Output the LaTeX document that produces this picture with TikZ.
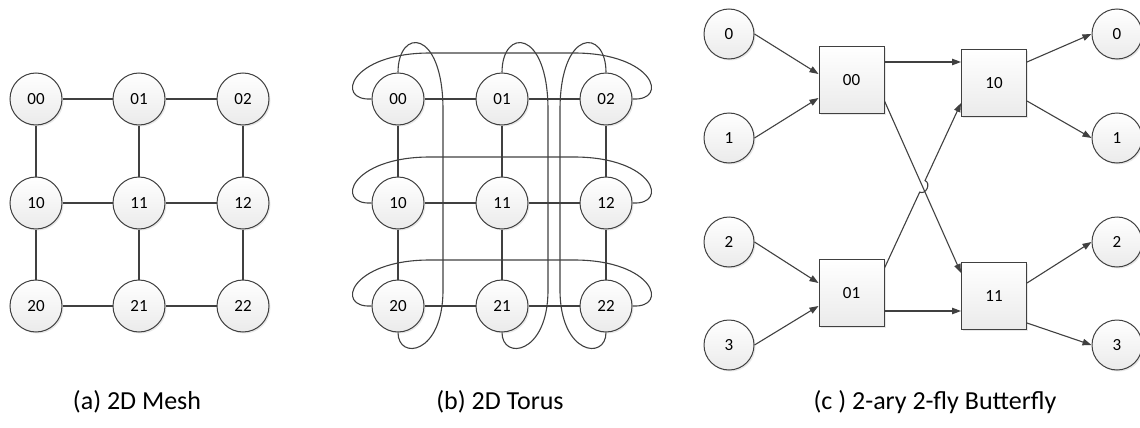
\documentclass[tikz,border=0pt]{standalone}
\usepackage{fontspec}
\setmainfont{Carlito}
\usetikzlibrary{arrows.meta,calc,shadows}
\definecolor{ln}{HTML}{404040}
\tikzset{
  x=1pt,y=-1pt,
  edge/.style={draw=ln, line width=1.1pt},
  arr/.style={edge, -{Triangle[length=9pt,width=6.5pt]}},
  nd/.style={circle, draw=ln, line width=1pt, minimum size=52pt, inner sep=0pt,
    top color=white, bottom color=gray!16, font=\fontsize{17}{20}\selectfont,
    drop shadow={shadow xshift=1.5pt, shadow yshift=-1.5pt, opacity=0.18}},
  io/.style={nd, minimum size=50pt},
  sw/.style={rectangle, draw=ln, line width=1pt, minimum width=65pt, minimum height=67pt, inner sep=0pt,
    top color=white, bottom color=gray!16, font=\fontsize{17}{20}\selectfont,
    drop shadow={shadow xshift=1.5pt, shadow yshift=-1.5pt, opacity=0.18}},
  captxt/.style={font=\fontsize{26}{30}\selectfont}
}
\begin{document}
\begin{tikzpicture}
\useasboundingbox (0,0) rectangle (1140,428);
\clip (0,0) rectangle (1140,428);
% ---------- (a) mesh
\foreach \r/\y in {0/99,1/203,2/306}{
  \foreach \c/\x in {0/36,1/139,2/243}{
    \node[nd] (m\r\c) at (\x,\y) {\r\c};
  }}
\foreach \r in {0,1,2}{
  \draw[edge] (m\r0) -- (m\r1);
  \draw[edge] (m\r1) -- (m\r2);
  \draw[edge] (m0\r) -- (m1\r);
  \draw[edge] (m1\r) -- (m2\r);
}
% ---------- (b) torus
\foreach \r/\y in {0/99,1/203,2/306}{
  \foreach \c/\x in {0/398,1/502,2/606}{
    \node[nd] (t\r\c) at (\x,\y) {\r\c};
  }}
\foreach \r in {0,1,2}{
  \draw[edge] (t\r0) -- (t\r1);
  \draw[edge] (t\r1) -- (t\r2);
  \draw[edge] (t0\r) -- (t1\r);
  \draw[edge] (t1\r) -- (t2\r);
}
% horizontal wrap-around
\foreach \r in {0,1,2}{
  \coordinate (hl\r) at ($(t\r0.center)+(32,-46)$);
  \coordinate (hr\r) at ($(t\r2.center)+(-32,-46)$);
  \draw[edge] (t\r0.west) .. controls +(-37,2) and +(-80,0) .. (hl\r) -- (hr\r)
     .. controls +(80,0) and +(37,2) .. (t\r2.east);
}
% vertical wrap-around
\foreach \c/\d in {0/45,1/46,2/-46}{
  \coordinate (vt\c) at ($(t0\c.center)+(\d,11)$);
  \coordinate (vb\c) at ($(t2\c.center)+(\d,-16)$);
  \draw[edge] (t0\c.north) .. controls +(0,-45) and +(0,-82) .. (vt\c) -- (vb\c)
     .. controls +(0,65) and +(0,28) .. (t2\c.south);
}
% ---------- (c) butterfly
\foreach \i/\y in {0/34,1/138,2/242,3/345}{
  \node[io] (in\i) at (729,\y) {\i};
  \node[io] (out\i) at (1117,\y) {\i};
}
\node[sw] (b00) at (851.5,80) {00};
\node[sw] (b01) at (851.5,293) {01};
\node[sw] (b10) at (994,83) {10};
\node[sw] (b11) at (994,296) {11};
\draw[arr] (in0.east) -- ($(b00.west)+(0,-6)$);
\draw[arr] (in1.east) -- ($(b00.west)+(0,18)$);
\draw[arr] (in2.east) -- ($(b01.west)+(0,-10)$);
\draw[arr] (in3.east) -- ($(b01.west)+(0,13)$);
\draw[arr] ($(b00.east)+(0,-18)$) coordinate (p1) -- (p1 -| b10.west);
\draw[arr] ($(b01.east)+(0,18)$) coordinate (p2) -- (p2 -| b11.west);
\draw[arr] ($(b00.east)+(0,21)$) -- ($(b11.west)+(0,-23)$);
\coordinate (s) at ($(b01.east)+(0,-25)$);
\coordinate (e) at ($(b10.west)+(0,20)$);
\coordinate (h1) at ($(s)!0.46!(e)$);
\coordinate (h2) at ($(s)!0.53!(e)$);
\draw[arr] (s) -- (h1) to[bend right=90, looseness=1.4] (h2) -- (e);
\draw[arr] ($(b10.east)+(0,-21)$) -- (out0.west);
\draw[arr] ($(b10.east)+(0,18)$) -- (out1.west);
\draw[arr] ($(b11.east)+(0,-13)$) -- (out2.west);
\draw[arr] ($(b11.east)+(0,27)$) -- (out3.west);
% ---------- captions
\node[captxt] (ca) at (137,402) {(a) 2D Mesh};
\node[captxt] (cb) at (500,402) {(b) 2D Torus};
\node[captxt] (cc) at (935,402) {(c ) 2-ary 2-fly Butterfly};
\end{tikzpicture}
\end{document}
